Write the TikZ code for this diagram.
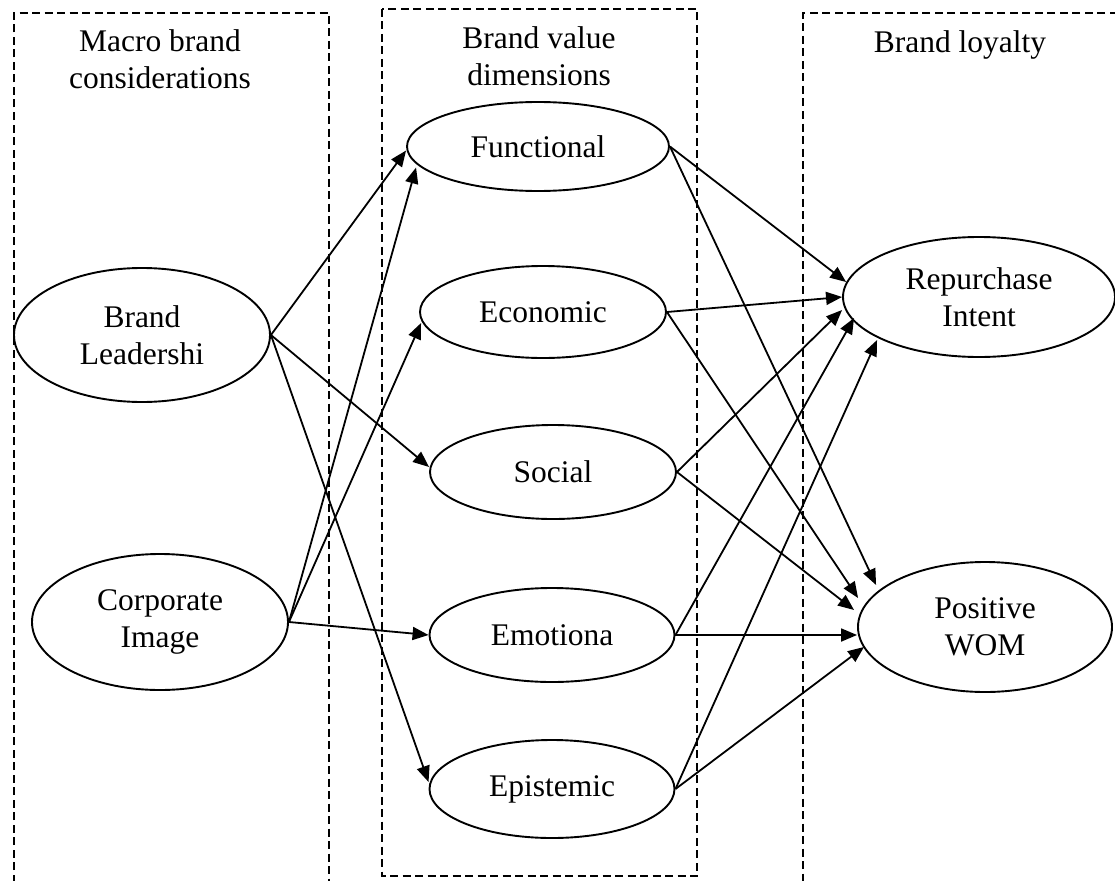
\documentclass[tikz,border=0pt]{standalone}
\usepackage{fontspec}
\setmainfont{Liberation Serif}
\usetikzlibrary{arrows.meta,shapes.geometric}
\begin{document}
\begin{tikzpicture}[x=1pt,y=-1pt,
  every node/.style={font=\fontsize{31.5}{37.5}\selectfont},
  oval/.style={ellipse, draw, line width=1.9pt, inner sep=0pt, align=center},
  group/.style={line width=1.6pt, dash pattern=on 8pt off 4.5pt},
  link/.style={line width=1.8pt, -{Triangle[length=16pt,width=13pt]}},
  title/.style={align=center, inner sep=0pt}]
\useasboundingbox (0,0) rectangle (1115,880);
\begin{scope}
\clip (0,0) rectangle (1115,880);
\draw[group] (14,895) -- (14,13) -- (329,13) -- (329,895);
\draw[group] (382,9) rectangle (697,876);
\draw[group] (1130,13) -- (803,13) -- (803,895);
\end{scope}
% titles
\node[title] (t1) at (160,59) {Macro brand\\considerations};
\node[title] (t2) at (539,56) {Brand value\\dimensions};
\node[title] (t3) at (960,45) {Brand loyalty};
% left column
\node[oval, minimum width=256pt, minimum height=134pt] (bl) at (142,335) {Brand\\Leadershi};
\node[oval, minimum width=256pt, minimum height=136pt] (ci) at (160,622) {Corporate\\Image};
% middle column
\node[oval, minimum width=262pt, minimum height=89pt] (fun) at (538,146.5) {Functional};
\node[oval, minimum width=246pt, minimum height=92pt] (eco) at (543,312) {Economic};
\node[oval, minimum width=246pt, minimum height=94pt] (soc) at (553,472) {Social};
\node[oval, minimum width=245pt, minimum height=94pt] (emo) at (552,635) {Emotiona};
\node[oval, minimum width=245pt, minimum height=98pt] (epi) at (552,789) {Epistemic};
% right column
\node[oval, minimum width=272pt, minimum height=120pt] (rep) at (979,297) {Repurchase\\Intent};
\node[oval, minimum width=254pt, minimum height=130pt] (wom) at (985,627) {Positive\\WOM};
% left -> middle
\draw[link] (bl.east) -- ([yshift=-4pt]fun.west);
\draw[link] (bl.east) -- ([yshift=5pt]soc.west);
\draw[link] (bl.east) -- ([yshift=7pt]epi.west);
\draw[link] (ci.east) -- ([xshift=10pt,yshift=-21pt]fun.west);
\draw[link] (ci.east) -- ([xshift=2pt,yshift=-11pt]eco.west);
\draw[link] (ci.east) -- (emo.west);
% middle -> right
\draw[link] (fun.east) -- ([xshift=4pt,yshift=15pt]rep.west);
\draw[link] (fun.east) -- ([xshift=19pt,yshift=42pt]wom.west);
\draw[link] (eco.east) -- (rep.west);
\draw[link] (eco.east) -- ([xshift=1pt,yshift=29pt]wom.west);
\draw[link] (soc.east) -- ([yshift=-13pt]rep.west);
\draw[link] (soc.east) -- ([xshift=-3pt,yshift=17pt]wom.west);
\draw[link] (emo.east) -- ([xshift=12pt,yshift=-21pt]rep.west);
\draw[link] (emo.east) -- ([yshift=-8pt]wom.west);
\draw[link] (epi.east) -- ([xshift=35pt,yshift=-43pt]rep.west);
\draw[link] (epi.east) -- ([xshift=7pt,yshift=-20pt]wom.west);
\end{tikzpicture}
\end{document}
